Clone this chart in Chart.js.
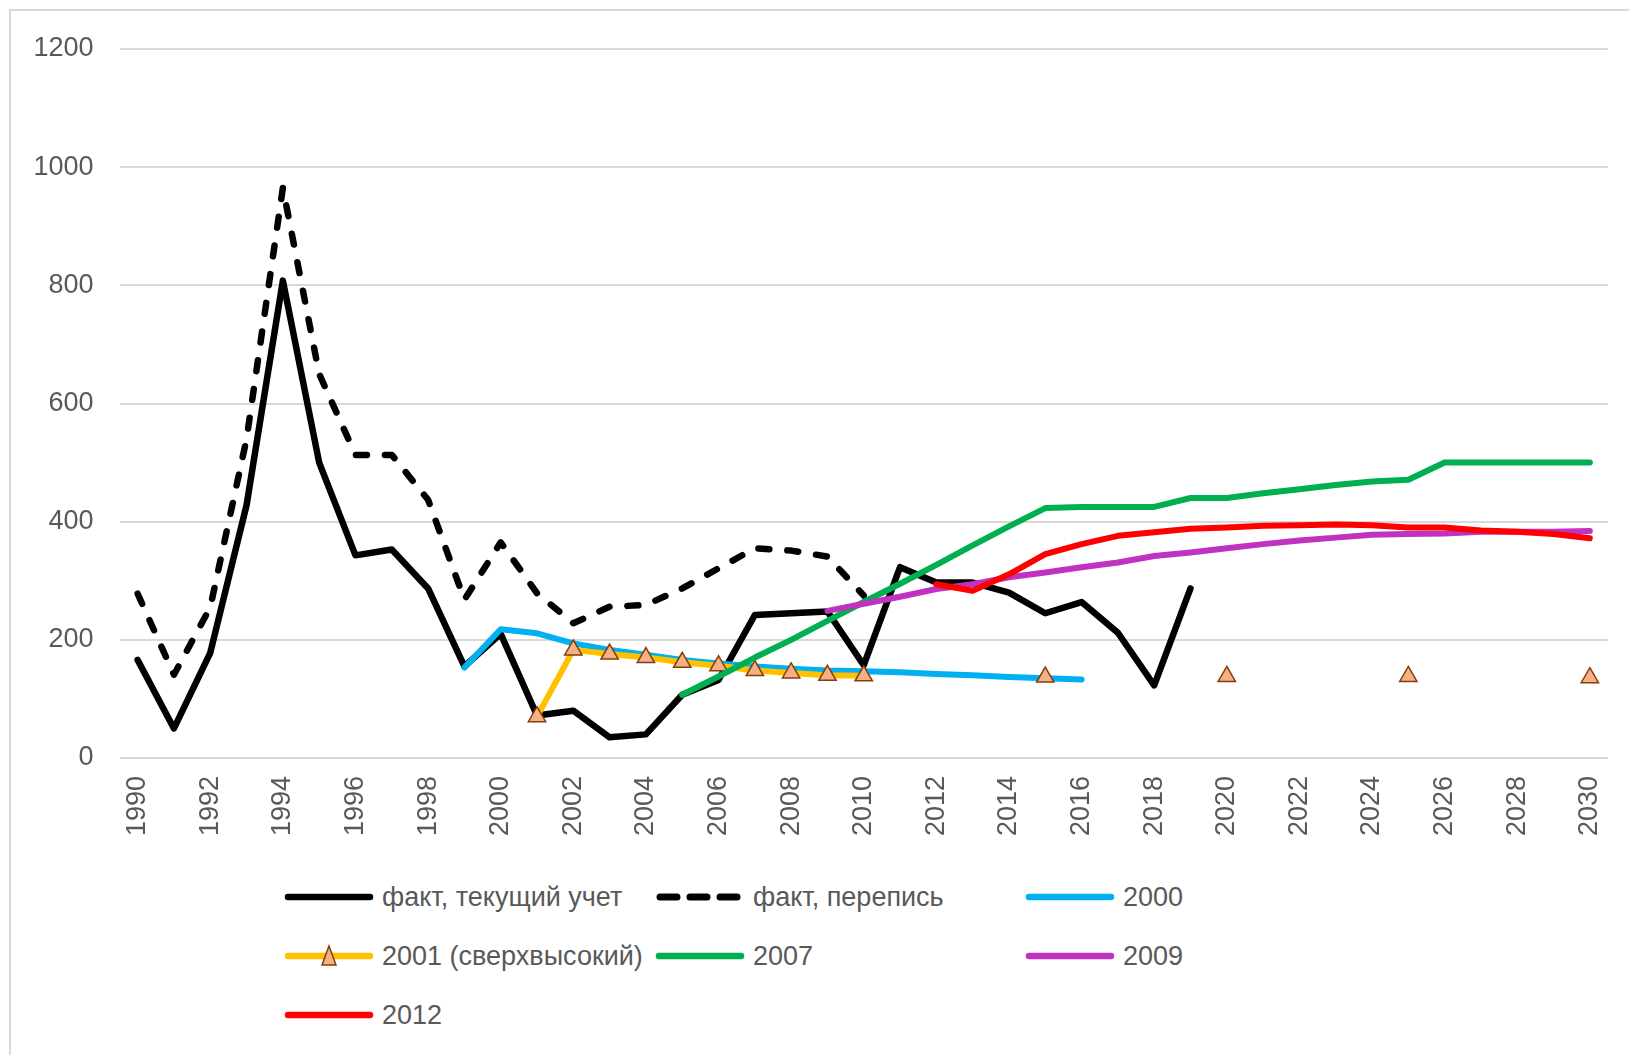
<!DOCTYPE html>
<html>
<head>
<meta charset="utf-8">
<script src="https://cdn.jsdelivr.net/npm/chart.js@4/dist/chart.umd.min.js"></script>
<style>
  html, body { margin: 0; padding: 0; background: #fff; }
  #wrap { position: relative; width: 1629px; height: 1055px; overflow: hidden; background: #fff; }
  #frame { position: absolute; left: 9px; top: 9px; width: 1700px; height: 1200px; border: 2px solid #d9d9d9; box-sizing: border-box; }
  #c { position: absolute; left: 0; top: 0; }
  .lg { position: absolute; height: 40px; display: flex; align-items: center; white-space: nowrap;
        font-family: 'Liberation Sans', Arial, sans-serif; font-size: 27px; color: #595959; }
  .lg svg { margin-right: 8px; }
</style>
</head>
<body>
<div id="wrap">
  <div id="frame"></div>
  <canvas id="c" width="1629" height="870"></canvas>
  <div id="legend"></div>
</div>
<script>
const years = [1990,1991,1992,1993,1994,1995,1996,1997,1998,1999,
               2000,2001,2002,2003,2004,2005,2006,2007,2008,2009,
               2010,2011,2012,2013,2014,2015,2016,2017,2018,2019,
               2020,2021,2022,2023,2024,2025,2026,2027,2028,2029,2030];

const factCurrent = [166,50,178,428,808,500,343,353,287,155,
                     210,72,80,35,40,107,132,242,245,248,
                     157,323,297,297,280,245,264,212,123,287,
                     null,null,null,null,null,null,null,null,null,null,null];

const factCensus = [278,141,255,540,965,650,513,513,437,268,
                    365,279,228,256,259,287,321,355,351,341,
                    275,null,null,null,null,null,null,null,null,null,
                    null,null,null,null,null,null,null,null,null,null,null];

const forecast2000 = [null,null,null,null,null,null,null,null,null,153,
                      218,211,194,183,175,166,160,155,151,148,
                      147,145,142,140,137,135,133,null,null,null,
                      null,null,null,null,null,null,null,null,null,null,null];

const forecast2001 = [null,null,null,null,null,null,null,null,null,null,
                      null,70,183,176,170,162,156,148,144,140,
                      139,null,null,null,null,137,null,null,null,null,
                      138,null,null,null,null,138,null,null,null,null,136];

const forecast2007 = [null,null,null,null,null,null,null,null,null,null,
                      null,null,null,null,null,107,138,170,200,232,
                      264,295,327,360,392,423,425,425,425,440,
                      440,448,455,462,468,471,500,500,500,500,500];

const forecast2009 = [null,null,null,null,null,null,null,null,null,null,
                      null,null,null,null,null,null,null,null,null,249,
                      261,273,286,294,306,314,323,331,342,348,
                      355,362,368,373,378,379,380,383,383,383,384];

const forecast2012 = [null,null,null,null,null,null,null,null,null,null,
                      null,null,null,null,null,null,null,null,null,null,
                      null,null,294,283,311,345,362,376,382,388,
                      390,393,394,395,394,390,390,385,383,379,372];

const seriesNames = ['факт, текущий учет', 'факт, перепись', '2000', '2001 (сверхвысокий)', '2007', '2009', '2012'];
const yTicks = [0, 200, 400, 600, 800, 1000, 1200];

const FONT = "'Liberation Sans', Arial, sans-serif";
const TXT = '#595959';

const styles = [
  { color: '#000000', width: 6.5, dash: [] },
  { color: '#000000', width: 6.5, dash: [11, 18] },
  { color: '#00B0F0', width: 6, dash: [] },
  { color: '#FFC000', width: 6, dash: [], marker: true },
  { color: '#00B050', width: 6, dash: [] },
  { color: '#C032C0', width: 6, dash: [] },
  { color: '#FF0000', width: 6, dash: [] }
];
const values = [factCurrent, factCensus, forecast2000, forecast2001, forecast2007, forecast2009, forecast2012];

const datasets = values.map((v, i) => {
  const s = styles[i];
  return {
    label: seriesNames[i],
    data: v,
    borderColor: s.color,
    backgroundColor: s.color,
    borderWidth: s.width,
    borderDash: s.dash,
    borderCapStyle: 'round',
    borderJoinStyle: 'round',
    tension: 0,
    spanGaps: false,
    fill: false,
    order: values.length - i,
    pointRadius: s.marker ? 10 : 0,
    pointHoverRadius: s.marker ? 10 : 0,
    pointStyle: 'triangle',
    pointBackgroundColor: '#F4B183',
    pointBorderColor: '#843C0C',
    pointBorderWidth: 1.5
  };
});

new Chart(document.getElementById('c'), {
  type: 'line',
  data: { labels: years, datasets: datasets },
  options: {
    responsive: false,
    animation: false,
    devicePixelRatio: 1,
    layout: { padding: { top: 49, left: 0, right: 21, bottom: 0 } },
    plugins: { legend: { display: false }, tooltip: { enabled: false } },
    scales: {
      x: {
        type: 'category',
        offset: true,
        grid: { display: false, drawTicks: false },
        border: { display: false },
        ticks: {
          autoSkip: false,
          minRotation: 90,
          maxRotation: 90,
          padding: 18,
          color: TXT,
          font: { family: FONT, size: 27 },
          callback: function(value, index) { return years[index] % 2 === 0 ? String(years[index]) : ''; }
        },
        afterFit: function(scale) { scale.height = 112; scale.paddingRight = 0; scale.paddingLeft = 0; }
      },
      y: {
        min: yTicks[0],
        max: yTicks[yTicks.length - 1],
        afterBuildTicks: function(scale) { scale.ticks = yTicks.map(v => ({ value: v })); },
        grid: { color: '#d9d9d9', lineWidth: 2, drawTicks: false },
        border: { display: false },
        ticks: { padding: 26, color: TXT, font: { family: FONT, size: 27 },
                 callback: function(value) { return String(value); } },
        afterFit: function(scale) { scale.width = 119.5; }
      }
    }
  }
});

// HTML legend laid out in the reference's 3-column grid
const colX = [284, 655, 1025];
const rowY = [897, 956, 1015];
const legendEl = document.getElementById('legend');
seriesNames.forEach((name, i) => {
  const s = styles[i];
  const col = i % 3, row = Math.floor(i / 3);
  const item = document.createElement('div');
  item.className = 'lg';
  item.style.left = colX[col] + 'px';
  item.style.top = (rowY[row] - 20) + 'px';
  let svg = '<svg width="90" height="24" viewBox="0 0 90 24">';
  if (s.dash.length) {
    svg += '<line x1="5" y1="12" x2="85" y2="12" stroke="' + s.color + '" stroke-width="7" stroke-linecap="round" stroke-dasharray="17 13"/>';
  } else {
    svg += '<line x1="4" y1="12" x2="86" y2="12" stroke="' + s.color + '" stroke-width="6.5" stroke-linecap="round"/>';
  }
  if (s.marker) {
    svg += '<polygon points="45,2 52,21 38,21" fill="#F4B183" stroke="#843C0C" stroke-width="1.5"/>';
  }
  svg += '</svg>';
  item.innerHTML = svg + '<span>' + name + '</span>';
  legendEl.appendChild(item);
});
</script>
</body>
</html>
